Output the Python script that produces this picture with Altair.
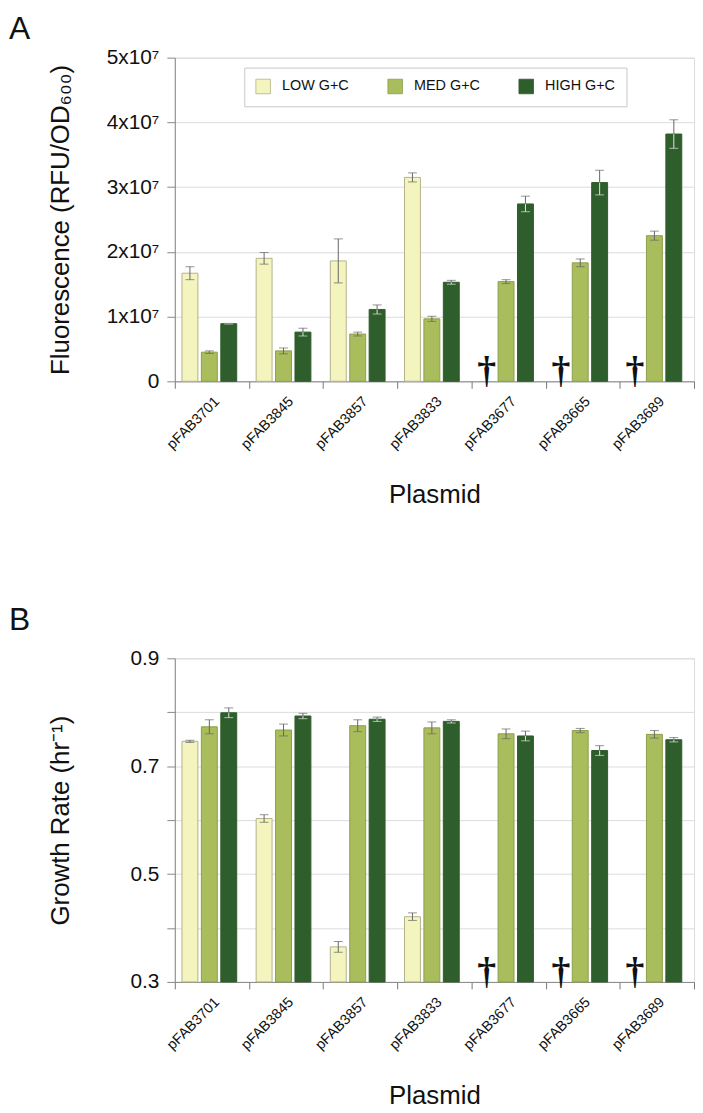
import altair as alt
import pandas as pd

plasmids = ["pFAB3701", "pFAB3845", "pFAB3857", "pFAB3833", "pFAB3677", "pFAB3665", "pFAB3689"]
series = ["LOW G+C", "MED G+C", "HIGH G+C"]
dead = ["pFAB3677", "pFAB3665", "pFAB3689"]

# Panel A: fluorescence, in units of 1e7 RFU/OD600
low_fl = [1.67, 1.90, 1.86, 3.15, None, None, None]
low_fl_err = [0.10, 0.09, 0.34, 0.07, None, None, None]
med_fl = [0.45, 0.47, 0.73, 0.965, 1.54, 1.83, 2.25]
med_fl_err = [0.02, 0.045, 0.03, 0.04, 0.03, 0.06, 0.07]
high_fl = [0.89, 0.76, 1.11, 1.53, 2.74, 3.07, 3.82]
high_fl_err = [0.005, 0.06, 0.07, 0.03, 0.12, 0.19, 0.22]

# Panel B: growth rate, hr^-1
low_gr = [0.746, 0.603, 0.365, 0.421, None, None, None]
low_gr_err = [0.002, 0.007, 0.010, 0.007, None, None, None]
med_gr = [0.773, 0.767, 0.775, 0.771, 0.760, 0.766, 0.759]
med_gr_err = [0.013, 0.011, 0.011, 0.011, 0.009, 0.004, 0.007]
high_gr = [0.799, 0.793, 0.787, 0.783, 0.756, 0.729, 0.749]
high_gr_err = [0.009, 0.005, 0.004, 0.003, 0.009, 0.009, 0.004]

fills = ["#f4f4bf", "#a9bd5c", "#2e5e2b"]
edges = ["#b2b28c", "#8c9f4a", "#2e5e2b"]

FONT = "Liberation Sans"
W, H = 523, 326


def frame(vals, errs):
    rows = []
    for s, vs, es in zip(series, vals, errs):
        for p, v, e in zip(plasmids, vs, es):
            if v is None:
                continue
            rows.append(dict(plasmid=p, series=s, value=v, lo=v - e, hi=v + e))
    return pd.DataFrame(rows)


def panel(df, ymin, ymax, tick_vals, label_expr, ytitle, letter, legend_y, letter_y):
    x = alt.X(
        "plasmid:N", sort=plasmids,
        scale=alt.Scale(paddingInner=0, paddingOuter=0),
        axis=alt.Axis(
            title="Plasmid", labelAngle=-45, labelFontSize=14.5, labelFont=FONT,
            labelColor="#111", labelPadding=6, labelOffset=0,
            tickBand="extent", tickSize=7, tickColor="#777", domainColor="#888",
            titleFontSize=26, titleFontWeight="normal", titleFont=FONT,
            titleX=W / 2, titleY=122, titleBaseline="alphabetic", titleColor="#111",
            grid=False,
        ),
    )
    xo = alt.XOffset(
        "series:N", sort=series,
        scale=alt.Scale(domain=series, paddingInner=0.18, paddingOuter=0.5, align=0.37),
    )
    yscale = alt.Scale(domain=[ymin, ymax], zero=False, nice=False)
    yaxis = alt.Axis(
        title=ytitle, values=tick_vals, labelExpr=label_expr,
        labelFontSize=21, labelFont=FONT, labelColor="#111", labelPadding=8,
        tickSize=8, tickColor="#888", domainColor="#888",
        gridColor="#dcdcdc", grid=True,
        titleFontSize=26, titleFontWeight="normal", titleFont=FONT, titleColor="#111",
        titleX=-107, titleY=H / 2, titleAngle=270, titleAlign="center",
        titleBaseline="alphabetic",
    )

    def ych(field):
        return alt.Y(field, scale=yscale, axis=yaxis)

    base = alt.Chart(df)
    bars = base.mark_bar(strokeWidth=1).encode(
        x=x, xOffset=xo, y=ych("value:Q"), y2=alt.datum(ymin),
        color=alt.Color(
            "series:N", sort=series,
            scale=alt.Scale(domain=series, range=fills),
            legend=alt.Legend(
                title=None, orient="none", legendX=70, legendY=legend_y,
                direction="horizontal", columns=3, symbolType="square",
                symbolSize=215, symbolStrokeColor="#9a9a9a", symbolStrokeWidth=0.8,
                symbolOpacity=1, labelFont=FONT, labelFontSize=14.5, labelColor="#111",
                labelOffset=11, columnPadding=37, padding=11,
                strokeColor="#c8c8c8", fillColor="white",
            ),
        ),
        stroke=alt.Stroke(
            "series:N", sort=series,
            scale=alt.Scale(domain=series, range=edges), legend=None,
        ),
    )
    light = alt.condition("datum.series === 'HIGH G+C'", alt.value("#e4e4e4"), alt.value("#666666"))
    err_up = base.mark_rule(strokeWidth=1, color="#666666").encode(
        x=x, xOffset=xo, y=ych("value:Q"), y2="hi:Q")
    err_dn = base.mark_rule(strokeWidth=1).encode(
        x=x, xOffset=xo, y=ych("lo:Q"), y2="value:Q", color=light)
    cap_up = base.mark_tick(orient="horizontal", size=9, thickness=1, color="#666666").encode(
        x=x, xOffset=xo, y=ych("hi:Q"))
    cap_dn = base.mark_tick(orient="horizontal", size=9, thickness=1).encode(
        x=x, xOffset=xo, y=ych("lo:Q"), color=light)

    ddf = pd.DataFrame({"plasmid": dead, "series": [series[0]] * len(dead), "value": [ymin] * len(dead)})
    daggers = alt.Chart(ddf).mark_text(
        text="†", font="Liberation Serif", fontWeight="bold", fontSize=38,
        baseline="alphabetic", color="#111", dy=2,
    ).encode(x=x, xOffset=xo, y=ych("value:Q"))

    lab = alt.Chart(pd.DataFrame({"t": [letter]})).mark_text(
        font=FONT, fontSize=32, align="left", baseline="top", color="#111",
    ).encode(x=alt.value(-167), y=alt.value(letter_y), text="t:N")

    return alt.layer(bars, err_up, err_dn, cap_up, cap_dn, daggers, lab).properties(width=W, height=H)


dfA = frame([low_fl, med_fl, high_fl], [low_fl_err, med_fl_err, high_fl_err])
dfB = frame([low_gr, med_gr, high_gr], [low_gr_err, med_gr_err, high_gr_err])

pA = panel(
    dfA, 0, 5, [0, 1, 2, 3, 4, 5],
    "datum.value == 0 ? '0' : format(datum.value, 'd') + 'x10⁷'",
    "Fluorescence (RFU/OD₆₀₀)", "A", 10, -44,
)
pB = panel(
    dfB, 0.3, 0.9, [0.3, 0.4, 0.5, 0.6, 0.7, 0.8, 0.9],
    "round(datum.value * 10) % 2 == 1 ? format(datum.value, '.1f') : ''",
    "Growth Rate (hr⁻¹)", "B", 9, -53,
)

chart = alt.vconcat(pA, pB, spacing=96).properties(
    padding={"left": 0, "top": 0, "right": 0, "bottom": 0}
).configure_view(stroke="#999999", strokeWidth=1).configure(font=FONT)

chart.save("out.html", embed_options={"renderer": "svg", "actions": False})
